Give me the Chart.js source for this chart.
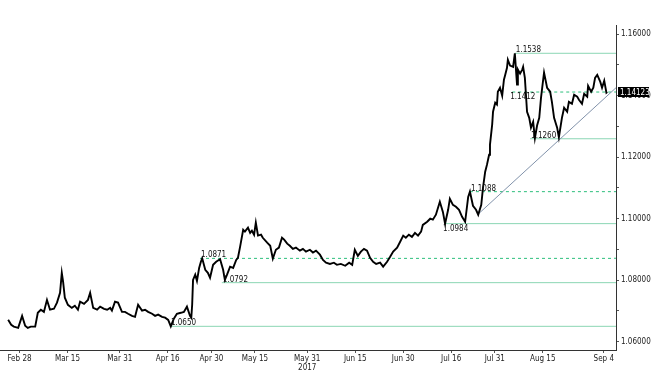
<!DOCTYPE html>
<html><head><meta charset="utf-8">
<script src="https://cdn.jsdelivr.net/npm/chart.js@4"></script>
<style>html,body{margin:0;padding:0;background:#fff}canvas{display:block}</style>
</head><body>
<canvas id="c" width="660" height="377"></canvas>
<script>
// trading-day index since Feb 28, 2017
const days = [-2.6,-1.9,-1.3,-0.3,0.6,1.3,1.9,2.6,3.6,4.2,4.9,5.6,6.3,7.0,7.9,8.6,9.3,9.7,10.0,10.4,11.1,12.0,12.7,13.4,13.9,14.8,15.7,16.2,16.9,17.8,18.5,19.4,20.1,20.8,21.2,21.9,22.6,23.5,24.2,24.9,25.8,26.5,27.2,28.1,28.8,29.5,30.4,31.1,31.8,32.7,33.4,34.1,34.7,35.4,36.1,37.0,37.7,38.4,39.1,39.4,39.6,39.8,40.3,40.7,41.2,41.6,41.9,42.6,43.2,43.7,44.4,45.1,46.0,46.7,47.1,47.6,48.3,49.0,49.7,50.1,50.6,51.3,51.7,52.4,52.9,53.3,53.8,54.2,54.7,55.4,55.8,56.8,57.5,58.1,58.8,59.5,60.2,60.7,61.4,62.0,62.7,63.4,64.3,65.0,65.7,66.6,67.3,68.0,68.9,69.6,70.3,71.2,72.1,72.8,73.7,74.7,75.6,76.3,76.9,77.6,78.3,79.0,79.7,80.4,81.1,81.8,82.7,83.4,84.3,85.0,85.7,86.6,87.3,88.0,88.6,89.3,90.0,90.7,91.4,92.1,92.5,93.5,94.2,94.8,95.5,96.4,97.1,97.6,98.3,98.7,99.4,100.1,100.8,101.5,102.2,102.9,103.3,104.0,104.7,105.2,105.9,106.3,106.8,107.2,107.7,107.9,108.4,108.6,109.1,109.5,109.7,110.2,110.7,111.1,111.4,111.8,112.0,112.5,113.2,113.6,114.1,114.3,114.8,115.3,115.5,115.9,116.4,116.9,117.3,117.8,118.2,118.7,119.2,119.6,120.1,120.3,121.0,121.7,122.1,122.6,123.3,123.7,124.4,124.9,125.6,126.0,126.7,127.2,127.9,128.3,129.0,129.5,130.2,130.4,131.1,131.6,132.0,132.5,133.2,133.6,134.1,134.6,134.8];
const prices = [1.0671,1.0655,1.0649,1.0645,1.0684,1.0652,1.0645,1.0649,1.0649,1.0694,1.0704,1.0697,1.0736,1.0704,1.0707,1.0727,1.0759,1.0824,1.0795,1.0743,1.0720,1.0710,1.0717,1.0704,1.0730,1.0723,1.0736,1.0759,1.0710,1.0704,1.0714,1.0707,1.0704,1.0710,1.0701,1.0730,1.0727,1.0697,1.0697,1.0691,1.0684,1.0681,1.0720,1.0701,1.0704,1.0697,1.0691,1.0684,1.0688,1.0681,1.0678,1.0671,1.0650,1.0675,1.0691,1.0694,1.0697,1.0714,1.0684,1.0678,1.0720,1.0801,1.0818,1.0798,1.0840,1.0860,1.0871,1.0834,1.0824,1.0808,1.0850,1.0860,1.0868,1.0834,1.0801,1.0818,1.0844,1.0840,1.0866,1.0873,1.0909,1.0964,1.0958,1.0971,1.0954,1.0961,1.0948,1.0987,1.0945,1.0948,1.0938,1.0922,1.0912,1.0870,1.0899,1.0906,1.0938,1.0932,1.0919,1.0912,1.0902,1.0906,1.0896,1.0902,1.0893,1.0899,1.0890,1.0896,1.0883,1.0866,1.0857,1.0853,1.0857,1.0850,1.0853,1.0847,1.0857,1.0850,1.0899,1.0879,1.0893,1.0902,1.0896,1.0873,1.0860,1.0853,1.0857,1.0844,1.0860,1.0876,1.0893,1.0906,1.0925,1.0945,1.0938,1.0948,1.0941,1.0954,1.0945,1.0958,1.0980,1.0990,1.1000,1.0997,1.1013,1.1055,1.1022,1.0984,1.1029,1.1065,1.1045,1.1039,1.1029,1.1006,1.0990,1.1071,1.1088,1.1042,1.1029,1.1013,1.1045,1.1101,1.1153,1.1175,1.1208,1.1241,1.1306,1.1348,1.1377,1.1371,1.1413,1.1426,1.1400,1.1452,1.1468,1.1491,1.1517,1.1498,1.1494,1.1538,1.1436,1.1485,1.1472,1.1485,1.1494,1.1458,1.1348,1.1328,1.1296,1.1315,1.1262,1.1303,1.1328,1.1393,1.1452,1.1475,1.1426,1.1413,1.1380,1.1328,1.1296,1.1265,1.1328,1.1361,1.1348,1.1380,1.1374,1.1403,1.1397,1.1387,1.1374,1.1406,1.1397,1.1432,1.1413,1.1426,1.1458,1.1468,1.1445,1.1426,1.1449,1.1410,1.14123];

const tickDays = [0,11,23,34,44,54,66,77,88,99,109,120,134];
const tickLabels = ['Feb 28','Mar 15','Mar 31','Apr 16','Apr 30','May 15',['May 31','2017'],'Jun 15','Jun 30','Jul 16','Jul 31','Aug 15','Sep 4'];
const yTicks = [1.06,1.07,1.08,1.09,1.10,1.11,1.12,1.13,1.14,1.15,1.16];

const levelValues = [1.1538,1.1412,1.1260,1.1088,1.0984,1.0871,1.0792,1.0650];
const levelStartDays = [113.6,113.0,117.1,103.3,97.6,41.4,46.4,34.5];
const levelDashed = [false,true,false,true,false,true,false,false];
const levelLabelBelow = [false,true,false,false,true,false,false,false];

const trendDays = [105.2,136.8];
const trendPrices = [1.1015,1.1426];
const lastPrice = 1.14123;

const xMin = -4.47, xMax = 136.8, yMin = 1.0573, yMax = 1.1630;
const FONT = '"Liberation Sans Narrow","DejaVu Sans Condensed",sans-serif';

const datasets = [{
  data: days.map((d,i)=>({x:d,y:prices[i]})),
  borderColor:'#000', borderWidth:1.9, pointRadius:0, tension:0, order:0
}];
levelValues.forEach((v,i)=>{
  datasets.push({
    data:[{x:levelStartDays[i],y:v},{x:xMax,y:v}],
    borderColor: levelDashed[i] ? '#2dbf7c' : '#8bd6b4',
    borderDash: levelDashed[i] ? [3,3] : [],
    borderWidth:1, pointRadius:0, order:2
  });
});
datasets.push({
  data: trendDays.map((d,i)=>({x:d,y:trendPrices[i]})),
  borderColor:'#8192aa', borderWidth:1, pointRadius:0, order:1
});

const annot = {
  id:'annot',
  afterDatasetsDraw(chart){
    const ctx = chart.ctx, xs = chart.scales.x, ys = chart.scales.y;
    ctx.save();
    ctx.font = '8px ' + FONT;
    ctx.fillStyle = '#111';
    ctx.textAlign = 'left';
    levelValues.forEach((v,i)=>{
      const px = xs.getPixelForValue(levelStartDays[i]);
      const py = ys.getPixelForValue(v);
      if (levelLabelBelow[i]) { ctx.textBaseline='top'; ctx.fillText(v.toFixed(4), px-2, py+1); }
      else { ctx.textBaseline='bottom'; ctx.fillText(v.toFixed(4), px+1, py+1); }
    });
    const y = ys.getPixelForValue(lastPrice);
    const x = chart.chartArea.right + 2;
    ctx.fillStyle = '#000';
    ctx.fillRect(x, Math.round(y)-5, 31, 10);
    ctx.fillStyle = '#fff';
    ctx.textBaseline = 'middle';
    ctx.fillText(lastPrice.toFixed(5), x+2, Math.round(y)+0.5);
    ctx.restore();
  }
};

new Chart(document.getElementById('c'), {
  type:'line',
  data:{datasets},
  options:{
    responsive:false, animation:false, devicePixelRatio:1,
    layout:{padding:{top:25,left:0,right:0,bottom:0}},
    plugins:{legend:{display:false}, tooltip:{enabled:false}},
    scales:{
      x:{type:'linear', min:xMin, max:xMax,
        afterBuildTicks:s=>{ s.ticks = tickDays.map(v=>({value:v})); },
        afterFit:s=>{ s.height = 27; },
        ticks:{autoSkip:false, maxRotation:0, minRotation:0, padding:2, color:'#222',
          font:{size:8, family:FONT, lineHeight:1.05}, callback:(v,i)=>tickLabels[i]},
        grid:{display:true, drawOnChartArea:false, drawTicks:true, tickLength:3, color:'#555'},
        border:{display:true, color:'#333', width:1}
      },
      y:{type:'linear', position:'right', min:yMin, max:yMax,
        afterBuildTicks:s=>{ s.ticks = yTicks.map(v=>({value:v})); },
        afterFit:s=>{ s.width = 44; },
        ticks:{padding:2, color:'#222', font:{size:8, family:FONT},
          callback:(v,i)=> i%2===0 ? Number(v).toFixed(5) : ''},
        grid:{display:true, drawOnChartArea:false, drawTicks:true, tickLength:3, color:'#555'},
        border:{display:true, color:'#333', width:1}
      }
    }
  },
  plugins:[annot]
});
</script>
</body></html>
